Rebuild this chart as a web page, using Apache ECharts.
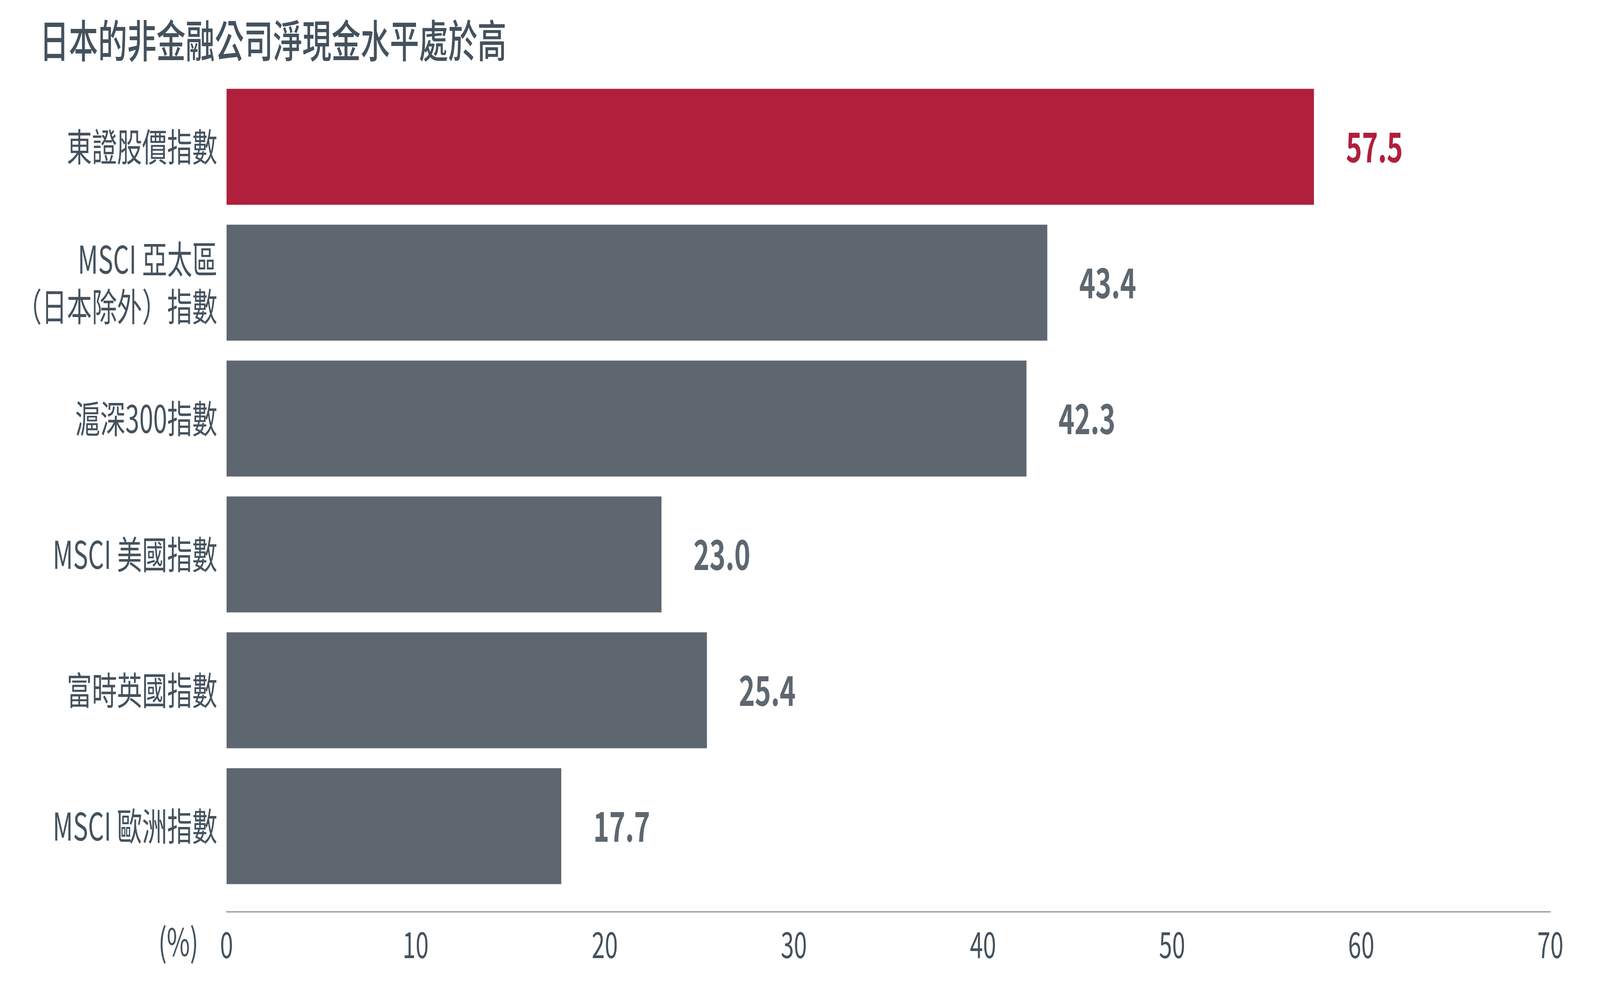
<!DOCTYPE html>
<html>
<head>
<meta charset="utf-8">
<script src="https://cdn.jsdelivr.net/npm/echarts@6/dist/echarts.min.js"></script>
<style>
html,body{margin:0;padding:0;background:#fff;overflow:hidden;}
#chart{width:6251px;height:2551px;transform-origin:0 0;}
</style>
</head>
<body>
<div id="chart"></div>
<script>
const titleText = '日本的非金融公司淨現金水平處於高';
const categories = ['東證股價指數', 'MSCI 亞太區\n（日本除外）指數', '滬深300指數', 'MSCI 美國指數', '富時英國指數', 'MSCI 歐洲指數'];
const values = [57.5, 43.4, 42.3, 23.0, 25.4, 17.7];
const highlightCategory = '東證股價指數';
const axisUnit = '(%)';
const xMin = 0, xMax = 70, xStep = 10;

const RED = '#b01f3b';
const GREY = '#5e6770';
const TEXT = '#44525e';
const FONT = '"Noto Sans CJK TC", "Noto Sans", sans-serif';

// The design is 6251x2551; fit it to whatever viewport the browser actually has.
const DESIGN_W = 6251, DESIGN_H = 2551;
const el = document.getElementById('chart');
const sx = window.innerWidth / DESIGN_W;
const sy = window.innerHeight / DESIGN_H;
if (Math.abs(sx - 1) > 0.001 || Math.abs(sy - 1) > 0.001) {
  el.style.transform = 'scale(' + sx + ',' + sy + ')';
}

const chart = echarts.init(el, null, {renderer: 'canvas', width: DESIGN_W, height: DESIGN_H});

const seriesData = values.map((v, i) => {
  const hi = categories[i] === highlightCategory;
  return {
    value: v,
    itemStyle: {color: hi ? RED : GREY},
    label: {color: hi ? RED : GREY}
  };
});

chart.setOption({
  animation: false,
  backgroundColor: '#ffffff',
  textStyle: {fontFamily: FONT},
  title: {
    text: titleText,
    left: 150,
    top: 42,
    textStyle: {fontFamily: FONT, fontSize: 114, fontWeight: 500, color: TEXT}
  },
  grid: {left: 885, right: 194, top: 202, bottom: 261, containLabel: false},
  xAxis: {
    type: 'value',
    min: xMin, max: xMax, interval: xStep,
    offset: 45,
    name: axisUnit,
    nameLocation: 'start',
    nameGap: 110,
    nameTextStyle: {fontFamily: FONT, fontSize: 98, color: TEXT, verticalAlign: 'top', padding: [28, 0, 0, 0]},
    axisLine: {show: true, lineStyle: {color: '#8c939a', width: 3}},
    axisTick: {show: false},
    splitLine: {show: false},
    axisLabel: {fontFamily: FONT, fontSize: 92, color: TEXT, margin: 38}
  },
  yAxis: {
    type: 'category',
    data: categories,
    inverse: true,
    axisLine: {show: false},
    axisTick: {show: false},
    splitLine: {show: false},
    axisLabel: {fontFamily: FONT, fontSize: 98, color: TEXT, margin: 36, lineHeight: 121, align: 'right'}
  },
  series: [{
    type: 'bar',
    data: seriesData,
    barCategoryGap: '14.7%',
    label: {
      show: true,
      position: 'right',
      distance: 125,
      fontFamily: FONT,
      fontSize: 106,
      fontWeight: 'bold',
      formatter: p => p.value.toFixed(1)
    }
  }]
});
</script>
</body>
</html>
